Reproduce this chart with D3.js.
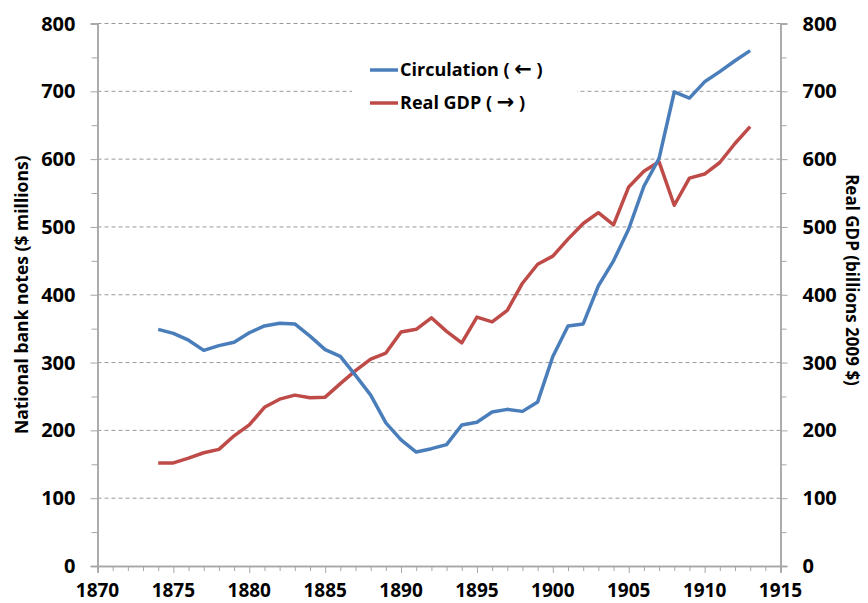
<!DOCTYPE html>
<html>
<head>
<meta charset="utf-8">
<script src="https://cdn.jsdelivr.net/npm/d3@7"></script>
<style>
  body { margin: 0; background: #fff; }
  svg { display: block; font-family: "Open Sans", sans-serif; }
  .tick-label { font-weight: 700; font-size: 20px; fill: #000; }
  .axis-title { font-weight: 700; font-size: 17px; fill: #000; }
  .legend-text { font-weight: 700; font-size: 18px; fill: #000; }
  .arrow { font-family: "DejaVu Sans", sans-serif; font-weight: 700; font-size: 21px; }
</style>
</head>
<body>
<div id="chart"></div>
<script>
// data
const years = [1874, 1875, 1876, 1877, 1878, 1879, 1880, 1881, 1882, 1883,
               1884, 1885, 1886, 1887, 1888, 1889, 1890, 1891, 1892, 1893,
               1894, 1895, 1896, 1897, 1898, 1899, 1900, 1901, 1902, 1903,
               1904, 1905, 1906, 1907, 1908, 1909, 1910, 1911, 1912, 1913];

// national bank notes in circulation ($ millions), left axis
const circulation = [349, 343, 333, 318, 325, 330, 344, 354, 358, 357,
                     339, 319, 309, 281, 252, 211, 186, 168, 173, 179,
                     208, 212, 227, 231, 228, 242, 309, 354, 357, 413,
                     450, 497, 560, 601, 699, 690, 714, 729, 745, 760];

// real GDP (billions 2009 $), right axis
const realGdp = [152, 152, 159, 167, 172, 192, 208, 234, 246, 252,
                 248, 249, 269, 288, 305, 314, 345, 349, 366, 346,
                 329, 367, 360, 377, 417, 445, 457, 482, 505, 521,
                 503, 559, 582, 596, 532, 572, 578, 595, 623, 648];

const yTicks = [0, 100, 200, 300, 400, 500, 600, 700, 800];
const xTicks = [1870, 1875, 1880, 1885, 1890, 1895, 1900, 1905, 1910, 1915];

const legendItems = [
  { name: "Circulation", arrow: "\u2190", color: "#4a7ebb" },
  { name: "Real GDP",    arrow: "\u2192", color: "#be4b48" }
];

// size
const totalW = 868, totalH = 603;
const margin = { top: 23.5, right: 87.5, bottom: 37, left: 97.5 };
const width  = totalW - margin.left - margin.right;
const height = totalH - margin.top - margin.bottom;

const svg = d3.select("#chart").append("svg")
  .attr("width", totalW)
  .attr("height", totalH);

const g = svg.append("g")
  .attr("transform", `translate(${margin.left},${margin.top})`);

// scales
const x = d3.scaleLinear().domain([1870, 1915]).range([0, width]);
const yLeft  = d3.scaleLinear().domain([0, 800]).range([height, 0]);
const yRight = d3.scaleLinear().domain([0, 800]).range([height, 0]);

const axisColor = "#a6a6a6";

// grid
g.append("g")
  .selectAll("line")
  .data(yTicks.filter(d => d > 0))
  .join("line")
  .attr("x1", 0)
  .attr("x2", width)
  .attr("y1", d => yLeft(d))
  .attr("y2", d => yLeft(d))
  .attr("stroke", "#9a9a9a")
  .attr("stroke-width", 1)
  .attr("stroke-dasharray", "4,3");

// left axis: major + minor ticks
const minorY = d3.range(50, 800, 100);
const leftAxis = g.append("g");
leftAxis.call(d3.axisLeft(yLeft).tickValues(yTicks).tickSize(7).tickFormat(""));
leftAxis.append("g").call(d3.axisLeft(yLeft).tickValues(minorY).tickSize(6).tickFormat(""));
leftAxis.selectAll(".domain").attr("stroke", axisColor).attr("stroke-width", 1.5);
leftAxis.selectAll(".tick line").attr("stroke", axisColor);

g.append("g")
  .selectAll("text")
  .data(yTicks)
  .join("text")
  .attr("class", "tick-label")
  .attr("x", -22)
  .attr("y", d => yLeft(d))
  .attr("dy", "0.35em")
  .attr("text-anchor", "end")
  .text(d => d);

// right axis
const rightAxis = g.append("g").attr("transform", `translate(${width},0)`);
rightAxis.call(d3.axisRight(yRight).tickValues(yTicks).tickSize(7).tickFormat(""));
rightAxis.append("g").call(d3.axisRight(yRight).tickValues(minorY).tickSize(6).tickFormat(""));
rightAxis.selectAll(".domain").attr("stroke", axisColor).attr("stroke-width", 1.5);
rightAxis.selectAll(".tick line").attr("stroke", axisColor);

g.append("g")
  .selectAll("text")
  .data(yTicks)
  .join("text")
  .attr("class", "tick-label")
  .attr("x", width + 22)
  .attr("y", d => yRight(d))
  .attr("dy", "0.35em")
  .attr("text-anchor", "start")
  .text(d => d);

// x axis
const minorX = d3.range(1870, 1916).filter(d => d % 5 !== 0);
const xAxis = g.append("g").attr("transform", `translate(0,${height})`);
xAxis.call(d3.axisBottom(x).tickValues(xTicks).tickSize(7).tickFormat(""));
xAxis.append("g").call(d3.axisBottom(x).tickValues(minorX).tickSize(5).tickFormat(""));
xAxis.selectAll(".domain").attr("stroke", axisColor).attr("stroke-width", 1.5);
xAxis.selectAll(".tick line").attr("stroke", axisColor);

g.append("g")
  .selectAll("text")
  .data(xTicks)
  .join("text")
  .attr("class", "tick-label")
  .attr("x", d => x(d))
  .attr("y", height + 31)
  .attr("text-anchor", "middle")
  .style("font-size", "19px")
  .text(d => d);

// axis titles
svg.append("text")
  .attr("class", "axis-title")
  .attr("transform", `translate(28,${margin.top + height / 2}) rotate(-90)`)
  .attr("text-anchor", "middle")
  .style("font-size", "17.5px")
  .text("National bank notes ($ millions)");

svg.append("text")
  .attr("class", "axis-title")
  .attr("transform", `translate(846,280) rotate(90)`)
  .attr("text-anchor", "middle")
  .text("Real GDP (billions 2009 $)");

// legend box (hides grid behind it)
const legend = svg.append("g").attr("transform", "translate(352,48)");
legend.append("rect")
  .attr("width", 225)
  .attr("height", 72)
  .attr("fill", "#fff");

legend.selectAll("g.item")
  .data(legendItems)
  .join("g")
  .attr("class", "item")
  .attr("transform", (d, i) => `translate(0,${22 + i * 33})`)
  .each(function(d) {
    const it = d3.select(this);
    it.append("line")
      .attr("x1", 18).attr("x2", 46)
      .attr("stroke", d.color)
      .attr("stroke-width", 3.5);
    const t = it.append("text")
      .attr("class", "legend-text")
      .attr("x", 48)
      .attr("dy", "0.35em");
    t.append("tspan").text(d.name + " ( ");
    t.append("tspan").attr("class", "arrow").text(d.arrow);
    t.append("tspan").text(" )");
  });

// lines
const lineLeft = d3.line()
  .x((d, i) => x(years[i]))
  .y(d => yLeft(d));
const lineRight = d3.line()
  .x((d, i) => x(years[i]))
  .y(d => yRight(d));

g.append("path")
  .datum(realGdp)
  .attr("fill", "none")
  .attr("stroke", legendItems[1].color)
  .attr("stroke-width", 3.5)
  .attr("stroke-linejoin", "round")
  .attr("d", lineRight);

g.append("path")
  .datum(circulation)
  .attr("fill", "none")
  .attr("stroke", legendItems[0].color)
  .attr("stroke-width", 3.5)
  .attr("stroke-linejoin", "round")
  .attr("d", lineLeft);
</script>
</body>
</html>
